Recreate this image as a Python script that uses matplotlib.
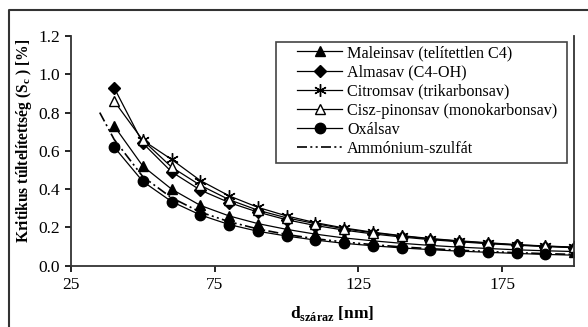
import numpy as np
import matplotlib
matplotlib.use('Agg')
import matplotlib.pyplot as plt
from matplotlib.lines import Line2D
from matplotlib.patches import Rectangle

plt.rcParams['font.family'] = ['Liberation Serif', 'DejaVu Serif']
plt.rcParams['mathtext.fontset'] = 'custom'
plt.rcParams['mathtext.rm'] = 'Liberation Serif'
plt.rcParams['mathtext.bf'] = 'Liberation Serif:bold'

# meret (nm)
d = [40, 50, 60, 70, 80, 90, 100, 110, 120, 130, 140, 150, 160, 170, 180, 190, 200]

maleinsav = [0.73, 0.52, 0.40, 0.315, 0.26, 0.22, 0.19, 0.165, 0.145, 0.13, 0.117,
             0.106, 0.097, 0.09, 0.083, 0.078, 0.074]
almasav = [0.93, 0.64, 0.49, 0.395, 0.33, 0.28, 0.24, 0.21, 0.186, 0.166, 0.15,
           0.136, 0.125, 0.115, 0.107, 0.10, 0.094]
citromsav = [np.nan, 0.655, 0.555, 0.445, 0.365, 0.305, 0.26, 0.225, 0.197, 0.175,
             0.157, 0.142, 0.13, 0.12, 0.11, 0.103, 0.097]
ciszpinonsav = [0.86, 0.655, 0.515, 0.42, 0.345, 0.29, 0.25, 0.22, 0.193, 0.172,
                0.155, 0.14, 0.128, 0.118, 0.109, 0.102, 0.096]
oxalsav = [0.62, 0.44, 0.335, 0.265, 0.215, 0.18, 0.155, 0.134, 0.117, 0.104, 0.093,
           0.084, 0.076, 0.07, 0.064, 0.059, 0.055]

d_as = [35, 40, 50, 60, 70, 80, 90, 100, 110, 120, 130, 140, 150, 160, 170, 180, 190, 200]
ammonium = [0.80, 0.66, 0.465, 0.355, 0.28, 0.23, 0.192, 0.163, 0.141, 0.124, 0.11,
            0.098, 0.089, 0.081, 0.074, 0.068, 0.063, 0.059]

W, H = 588, 327
fig = plt.figure(figsize=(W / 100, H / 100), dpi=100)
ax = fig.add_axes([71 / W, 1 - 265.7 / H, (574 - 71) / W, (265.7 - 36) / H])

lw = 0.9
ax.plot(d, maleinsav, color='k', lw=lw, marker='^', ms=7.5, label='Maleinsav (telítettlen C4)')
ax.plot(d, almasav, color='k', lw=lw, marker='D', ms=6, label='Almasav (C4-OH)')
ax.plot(d, citromsav, color='k', lw=lw, marker=(6, 2, 0), ms=9, mew=1, label='Citromsav (trikarbonsav)')
ax.plot(d, ciszpinonsav, color='k', lw=lw, marker='^', ms=7.5, mfc='white', mew=1,
        label='Cisz-pinonsav (monokarbonsav)')
ax.plot(d, oxalsav, color='k', lw=lw, marker='o', ms=7.5, markevery=slice(0, -1), label='Oxálsav')
ax.plot(d_as, ammonium, color='k', lw=1.2, dashes=(6, 2, 1.2, 2, 1.2, 2), label='Ammónium-szulfát')

ax.set_xlim(25, 200)
ax.set_ylim(0, 1.2)
ax.set_xticks([25, 75, 125, 175])
ax.set_yticks(np.arange(0, 1.21, 0.2))
ax.yaxis.set_major_formatter(matplotlib.ticker.FormatStrFormatter('%.1f'))
ax.tick_params(direction='out', length=4, width=1.2, labelsize=12.5, pad=4, colors='k')
for s in ['left', 'bottom', 'right']:
    ax.spines[s].set_linewidth(1.3)
    ax.spines[s].set_color('#333333')
ax.spines['top'].set_visible(False)

ax.set_xlabel(r'd$_{\mathbf{száraz}}$ [nm]', fontsize=12.5, fontweight='bold')
ax.xaxis.set_label_coords(0.52, -0.165)
ax.set_ylabel(r'Kritikus túltelítettség (S$_{\mathbf{c}}$ ) [%]', fontsize=11.2,
              fontweight='bold')
ax.yaxis.set_label_coords(-0.074, 0.545)

# keret a jelmagyarazat korul
fig.patches.append(Rectangle((276 / W, 1 - 163 / H), (567 - 276) / W, (163 - 41.7) / H,
                             transform=fig.transFigure, fill=False, ec='#444444', lw=1.2))
leg = ax.legend(loc='upper left', bbox_to_anchor=(297 / W, 1 - 45 / H),
                bbox_transform=fig.transFigure, frameon=False, fontsize=11.6,
                handlelength=2.8, handletextpad=0.3, labelspacing=0.2, borderpad=0,
                borderaxespad=0, numpoints=1)

# kulso keret
fig.lines.append(Line2D([9 / W, 9 / W, 1], [0, 1 - 10 / H, 1 - 10 / H],
                        transform=fig.transFigure, color='#333333', lw=1.5))

fig.savefig('out.png', dpi=100)
